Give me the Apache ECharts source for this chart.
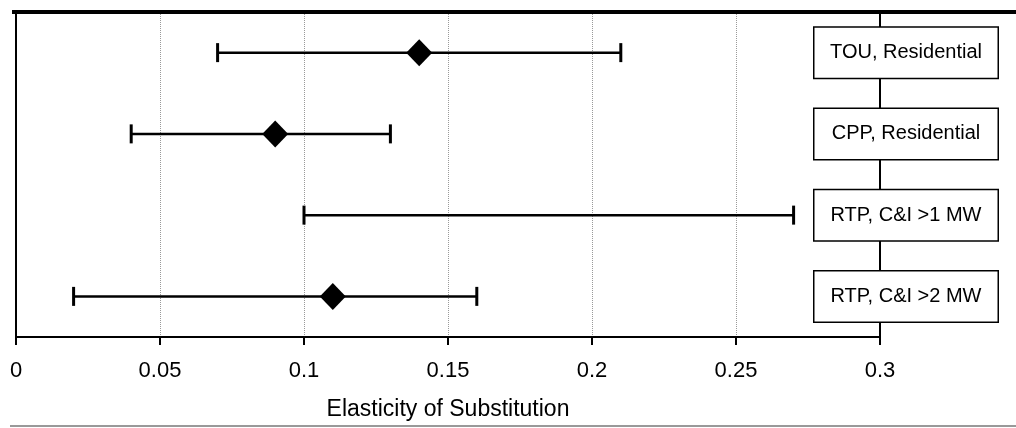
<!DOCTYPE html>
<html>
<head>
<meta charset="utf-8">
<script src="https://cdn.jsdelivr.net/npm/echarts@6/dist/echarts.min.js"></script>
<style>
  html, body { margin: 0; padding: 0; background: #fff; }
  #main { width: 1016px; height: 428px; }
</style>
</head>
<body>
<div id="main"></div>
<script>
// rate programs, top to bottom
const programs = ['TOU, Residential', 'CPP, Residential', 'RTP, C&I >1 MW', 'RTP, C&I >2 MW'];
const lowValues = [0.07, 0.04, 0.10, 0.02];
const highValues = [0.21, 0.13, 0.27, 0.16];
// point estimate (none shown for RTP >1 MW)
const pointValues = [0.14, 0.09, null, 0.11];

const xTicks = { min: 0, max: 0.3, interval: 0.05 };

const chartDom = document.getElementById('main');
const myChart = echarts.init(chartDom);

let rangeData = programs.map((p, i) => [lowValues[i], highValues[i], p]);
let pointData = programs.map((p, i) => [pointValues[i], p]).filter(d => d[0] !== null);

let renderBar = (params, api) => {
    let lo = api.coord([api.value(0), api.value(2)]);
    let hi = api.coord([api.value(1), api.value(2)]);
    let h = 9.5;
    let style = { stroke: '#000', lineWidth: 2.5 };
    return {
        type: 'group',
        children: [
            { type: 'line', shape: { x1: lo[0], y1: lo[1], x2: hi[0], y2: hi[1] }, style },
            { type: 'line', shape: { x1: lo[0], y1: lo[1] - h, x2: lo[0], y2: lo[1] + h }, style: { stroke: '#000', lineWidth: 3 } },
            { type: 'line', shape: { x1: hi[0], y1: hi[1] - h, x2: hi[0], y2: hi[1] + h }, style: { stroke: '#000', lineWidth: 3 } }
        ]
    };
};

const option = {
    animation: false,
    backgroundColor: '#fff',
    textStyle: { fontFamily: 'Liberation Sans, Arial, sans-serif' },
    grid: { left: 16, top: 12, right: 136, bottom: 91 },
    xAxis: {
        type: 'value',
        min: xTicks.min,
        max: xTicks.max,
        interval: xTicks.interval,
        name: 'Elasticity of Substitution',
        nameLocation: 'middle',
        nameGap: 61,
        nameTextStyle: { fontSize: 23, color: '#000' },
        axisLine: { show: true, onZero: false, lineStyle: { color: '#000', width: 2 } },
        axisTick: { show: true, length: 8, lineStyle: { color: '#000', width: 2 } },
        axisLabel: {
            fontSize: 22,
            color: '#000',
            margin: 23,
            formatter: v => String(parseFloat(v.toFixed(2)))
        },
        splitLine: { show: true, lineStyle: { color: '#999', type: 'dotted', width: 1 } }
    },
    yAxis: [
        {
            type: 'category',
            data: programs,
            inverse: true,
            position: 'right',
            axisLine: { show: true, onZero: false, lineStyle: { color: '#000', width: 2 } },
            axisTick: { show: false },
            splitLine: { show: false },
            axisLabel: {
                margin: 26,
                align: 'center',
                fontSize: 20,
                color: '#000',
                backgroundColor: '#fff',
                borderColor: '#000',
                borderWidth: 1.5,
                width: 163,
                padding: [15, 10]
            },
            z: 5
        },
        {
            type: 'category',
            data: programs,
            inverse: true,
            position: 'left',
            axisLine: { show: true, onZero: false, lineStyle: { color: '#000', width: 2 } },
            axisTick: { show: false },
            axisLabel: { show: false },
            splitLine: { show: false }
        }
    ],
    series: [
        {
            type: 'custom',
            renderItem: renderBar,
            encode: { x: [0, 1], y: 2 },
            data: rangeData,
            z: 2
        },
        {
            type: 'scatter',
            symbol: 'diamond',
            symbolSize: [26, 27],
            itemStyle: { color: '#000', opacity: 1 },
            data: pointData,
            z: 3
        }
    ],
    graphic: [
        {
            type: 'line',
            shape: { x1: 12, y1: 12, x2: 1016, y2: 12 },
            style: { stroke: '#000', lineWidth: 4 },
            z: 10
        },
        {
            type: 'line',
            shape: { x1: 10, y1: 426, x2: 1016, y2: 426 },
            style: { stroke: '#999', lineWidth: 2 }
        }
    ]
};

myChart.setOption(option);
window.addEventListener('resize', () => {
    myChart.resize();
});
</script>
</body>
</html>
